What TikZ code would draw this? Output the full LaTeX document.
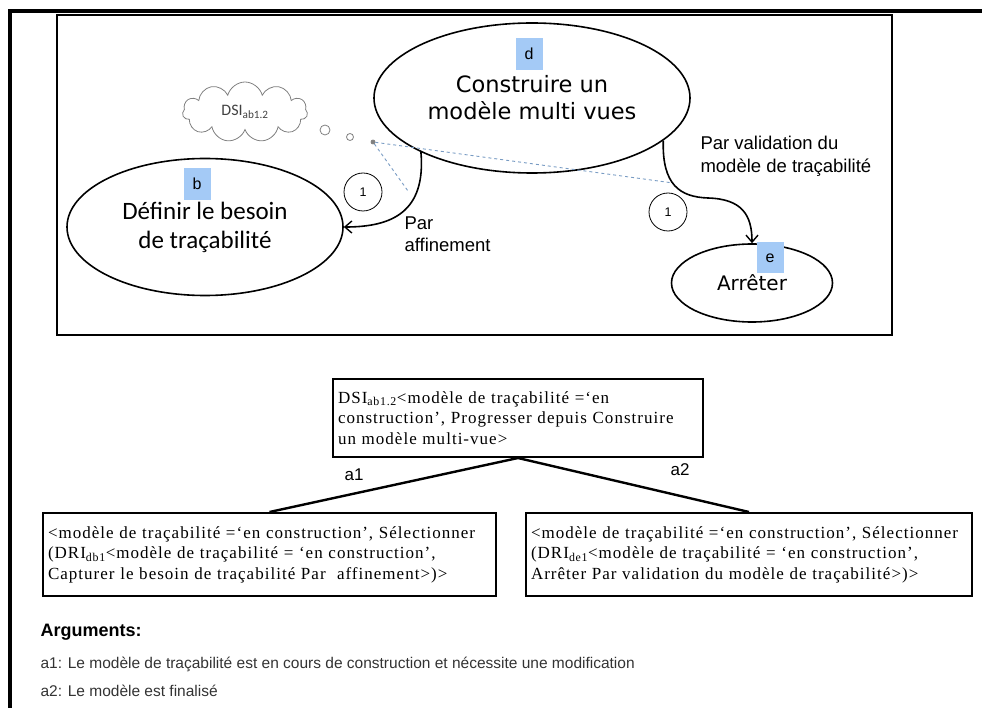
\documentclass[tikz,border=0pt]{standalone}
\usepackage{fontspec}
\setmainfont{Liberation Serif}
\newfontfamily\arialf{Liberation Sans}
\newfontfamily\dejavuf{DejaVu Sans}
\newfontfamily\calibf{Carlito}
\newfontfamily\timesw[LetterSpace=6]{Liberation Serif}
\usetikzlibrary{arrows.meta,positioning,shapes.geometric,shapes.symbols}
\definecolor{tagblue}{RGB}{164,202,246}
\definecolor{dashblue}{RGB}{120,155,195}

\begin{document}
\begin{tikzpicture}[x=1pt,y=-1pt,
  elli/.style={draw,ellipse,line width=1.6pt,inner sep=0pt,align=center},
  tag/.style={fill=tagblue,minimum width=27pt,minimum height=32pt,inner sep=0pt,font=\arialf\fontsize{16}{18}\selectfont},
  rond/.style={draw,circle,line width=0.8pt,minimum size=38pt,inner sep=0pt,font=\arialf\fontsize{12.5}{14}\selectfont},
  bulle/.style={draw=gray,circle,line width=0.8pt,inner sep=0pt},
  boite/.style={draw,line width=2pt,inner sep=5pt,align=left,anchor=north west,font=\timesw\fontsize{17}{20.5}\selectfont},
  arc/.style={line width=1.6pt,-{Straight Barb[length=7pt,width=12pt,line width=1.4pt]}},
  pointille/.style={dashblue,dashed,line width=0.9pt},
  lien/.style={line width=2.4pt}]
\useasboundingbox (0,0) rectangle (982,708);
\draw[line width=3.5pt] (10,708) -- (10,11) -- (982,11);
\draw[line width=2.4pt] (57,15) rectangle (892,335);

\node[elli,minimum width=316pt,minimum height=150pt,font=\dejavuf\fontsize{22.5}{27}\selectfont] (d) at (532,98) {Construire un\\modèle multi vues};
\node[tag] (td) at (529,54) {d};
\node[elli,minimum width=276pt,minimum height=137pt,font=\calibf\fontsize{25}{29}\selectfont] (b) at (205,227) {Définir le besoin\\de traçabilité};
\node[tag] (tb) at (197,184) {b};
\node[elli,minimum width=161pt,minimum height=78pt,font=\dejavuf\fontsize{20}{22}\selectfont] (e) at (752,283) {Arrêter};
\node[tag,minimum height=31pt] (te) at (770,258) {e};

\node[cloud,draw=gray,line width=0.8pt,cloud puffs=11,aspect=2.1,minimum width=125pt,minimum height=60pt,inner sep=0pt,font=\calibf\fontsize{16}{18}\selectfont,text=black!75] (nuage) at (245,112) {DSI\textsubscript{ab1.2}};
\node[bulle,minimum size=10pt] (p1) at (325,130) {};
\node[bulle,minimum size=7pt] (p2) at (350,137) {};
\node[bulle,fill=gray,minimum size=4pt] (p3) at (373,142) {};
\coordinate (fa) at (673,183);
\coordinate (fb) at (408,191);
\draw[pointille] (p3) -- (fa);
\draw[pointille] (p3) -- (fb);

\draw[arc] (d.206) .. controls (426,212) and (392,227) .. (b.east);
\node[rond] (r1) at (363,192) {1};
\node[anchor=north west,align=left,font=\arialf\fontsize{18.5}{22}\selectfont] (pa) at (401,213) {Par\\affinement};

\coordinate (mid) at (708,198);
\draw[arc] (d.-18) .. controls (662,185) and (680,197) .. (mid) .. controls (742,199) and (752,215) .. (e.north);
\node[rond] (r2) at (668,212) {1};
\node[anchor=north west,align=left,font=\arialf\fontsize{18.5}{22.5}\selectfont] (pv) at (697,133) {Par validation du\\modèle de traçabilité};

\node[boite,text width=360pt,minimum height=78pt] (dsi) at (332,378) {DSI\textsubscript{ab1.2}<modèle de traçabilité =‘en\\construction’, Progresser depuis Construire\\un modèle multi-vue>};
\node[boite,text width=443pt,minimum height=83pt] (dria) at (42,512) {<modèle de traçabilité =‘en construction’, Sélectionner\\(DRI\textsubscript{db1}<modèle de traçabilité = ‘en construction’,\\Capturer le besoin de traçabilité Par\ \ affinement>)>};
\node[boite,text width=436pt,minimum height=83pt] (drie) at (525,512) {<modèle de traçabilité =‘en construction’, Sélectionner\\(DRI\textsubscript{de1}<modèle de traçabilité = ‘en construction’,\\Arrêter Par validation du modèle de traçabilité>)>};
\draw[lien] (dsi.south) -- (dria.north);
\draw[lien] (dsi.south) -- (drie.north);
\node[font=\arialf\fontsize{17}{19}\selectfont] (la1) at (354,475) {a1};
\node[font=\arialf\fontsize{17}{19}\selectfont] (la2) at (680,470) {a2};

\node[anchor=west,font=\arialf\bfseries\fontsize{18}{20}\selectfont] (arg) at (37,632) {Arguments:};
\node[anchor=west,text=black!80,font=\arialf\fontsize{15.5}{18}\selectfont] (arg1) at (37,664) {a1: Le modèle de traçabilité est en cours de construction et nécessite une modification};
\node[anchor=west,text=black!80,font=\arialf\fontsize{15.5}{18}\selectfont] (arg2) at (37,691) {a2: Le modèle est finalisé};
\end{tikzpicture}
\end{document}
